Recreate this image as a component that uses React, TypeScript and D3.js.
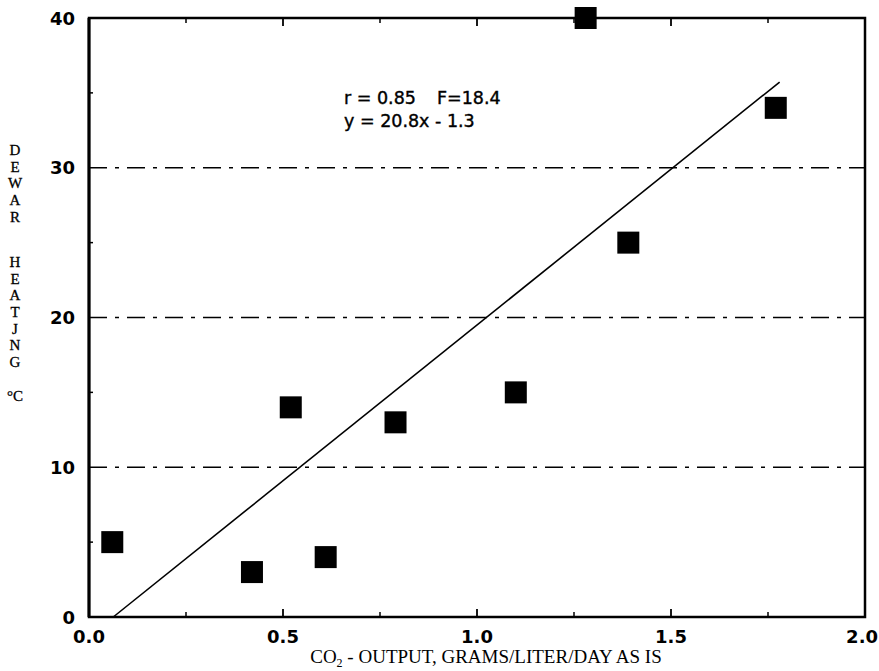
import React from "react";
import * as d3 from "d3";

const xValues = [0.06, 0.42, 0.52, 0.61, 0.79, 1.1, 1.28, 1.39, 1.77];
const yValues = [5, 3, 14, 4, 13, 15, 40, 25, 34];
const xTicks = [0, 0.5, 1.0, 1.5, 2.0];
const xMinorTicks = [0.25, 0.75, 1.25, 1.75];
const yTicks = [0, 10, 20, 30, 40];
const yMinorTicks = [5, 15, 25, 35];
const gridValues = [10, 20, 30];
const fitSlope = 20.8;
const fitIntercept = -1.3;
const fitRange = [0.0625, 1.78];
const yLabelWord1 = ["D", "E", "W", "A", "R"];
const yLabelWord2 = ["H", "E", "A", "T", "J", "N", "G"];
const yLabelUnit = "°C";

export default function App() {
  const W = 879, H = 671;
  const left = 89, right = 865, top = 18, bottom = 617;
  const x = d3.scaleLinear().domain([0, 2]).range([left, right]);
  const y = d3.scaleLinear().domain([0, 40]).range([bottom, top]);
  const line = d3.line<number>().x((d) => x(d)).y((d) => y(fitSlope * d + fitIntercept));
  const ms = 22;
  const sans = "'DejaVu Sans', Verdana, sans-serif";
  const serif = "'Liberation Serif', 'Times New Roman', serif";
  const step = 16.7;
  const d0 = 155;
  const h0 = d0 + 4 * step + 45;
  return (
    <svg width={W} height={H} style={{ position: "absolute", left: 0, top: 0, background: "#fff" }}>
      <rect x={0} y={0} width={W} height={H} fill="#fff" />
      {gridValues.map((v) => (
        <line key={v} x1={left} x2={right} y1={y(v)} y2={y(v)} stroke="#000" strokeWidth={1.6} strokeDasharray="18 8 4 8" />
      ))}
      {xMinorTicks.map((v) => (
        <g key={"xm" + v}>
          <line x1={x(v)} x2={x(v)} y1={bottom} y2={bottom - 5} stroke="#000" strokeWidth={1.5} />
          <line x1={x(v)} x2={x(v)} y1={top} y2={top + 5} stroke="#000" strokeWidth={1.5} />
        </g>
      ))}
      {xTicks.slice(1, -1).map((v) => (
        <g key={"xt" + v}>
          <line x1={x(v)} x2={x(v)} y1={bottom} y2={bottom - 8} stroke="#000" strokeWidth={1.8} />
          <line x1={x(v)} x2={x(v)} y1={top} y2={top + 8} stroke="#000" strokeWidth={1.8} />
        </g>
      ))}
      {yMinorTicks.map((v) => (
        <line key={"ym" + v} x1={left} x2={left + 4} y1={y(v)} y2={y(v)} stroke="#000" strokeWidth={1.5} />
      ))}
      <path d={line(fitRange) || ""} fill="none" stroke="#000" strokeWidth={1.6} />
      {xValues.map((v, i) => (
        <rect key={"p" + i} x={x(v) - ms / 2} y={y(yValues[i]) - ms / 2} width={ms} height={ms} fill="#000" />
      ))}
      <rect x={left} y={top} width={right - left} height={bottom - top} fill="none" stroke="#000" strokeWidth={2.5} />
      <line x1={left} x2={left} y1={top} y2={bottom} stroke="#000" strokeWidth={3} />
      {yTicks.map((v) => (
        <text key={"yl" + v} x={75} y={y(v) + 6.5} textAnchor="end" fontFamily={sans} fontWeight="bold" fontSize={18}>
          {v}
        </text>
      ))}
      {xTicks.map((v, i) => (
        <text
          key={"xl" + v}
          x={i === xTicks.length - 1 ? W - 1 : x(v)}
          y={643}
          textAnchor={i === xTicks.length - 1 ? "end" : "middle"}
          fontFamily={sans}
          fontWeight="bold"
          fontSize={18}
        >
          {v.toFixed(1)}
        </text>
      ))}
      <g fontFamily={serif} fontSize={15} textAnchor="middle" stroke="#000" strokeWidth={0.3}>
        {yLabelWord1.map((c, i) => (
          <text key={"w1" + i} x={15} y={d0 + i * step}>{c}</text>
        ))}
        {yLabelWord2.map((c, i) => (
          <text key={"w2" + i} x={15} y={h0 + i * step}>{c}</text>
        ))}
        <text x={15} y={h0 + 6 * step + 34}>{yLabelUnit}</text>
      </g>
      <text x={486} y={663} textAnchor="middle" fontFamily={serif} fontSize={19}>
        CO<tspan fontSize={12} dy={4}>2</tspan><tspan dy={-4}> - OUTPUT, GRAMS/LITER/DAY AS IS</tspan>
      </text>
      <g fontFamily={sans} fontSize={17.5} stroke="#000" strokeWidth={0.4}>
        <text x={344} y={104}>r = 0.85</text>
        <text x={437} y={104}>F=18.4</text>
        <text x={344} y={127}>y = 20.8x - 1.3</text>
      </g>
    </svg>
  );
}
